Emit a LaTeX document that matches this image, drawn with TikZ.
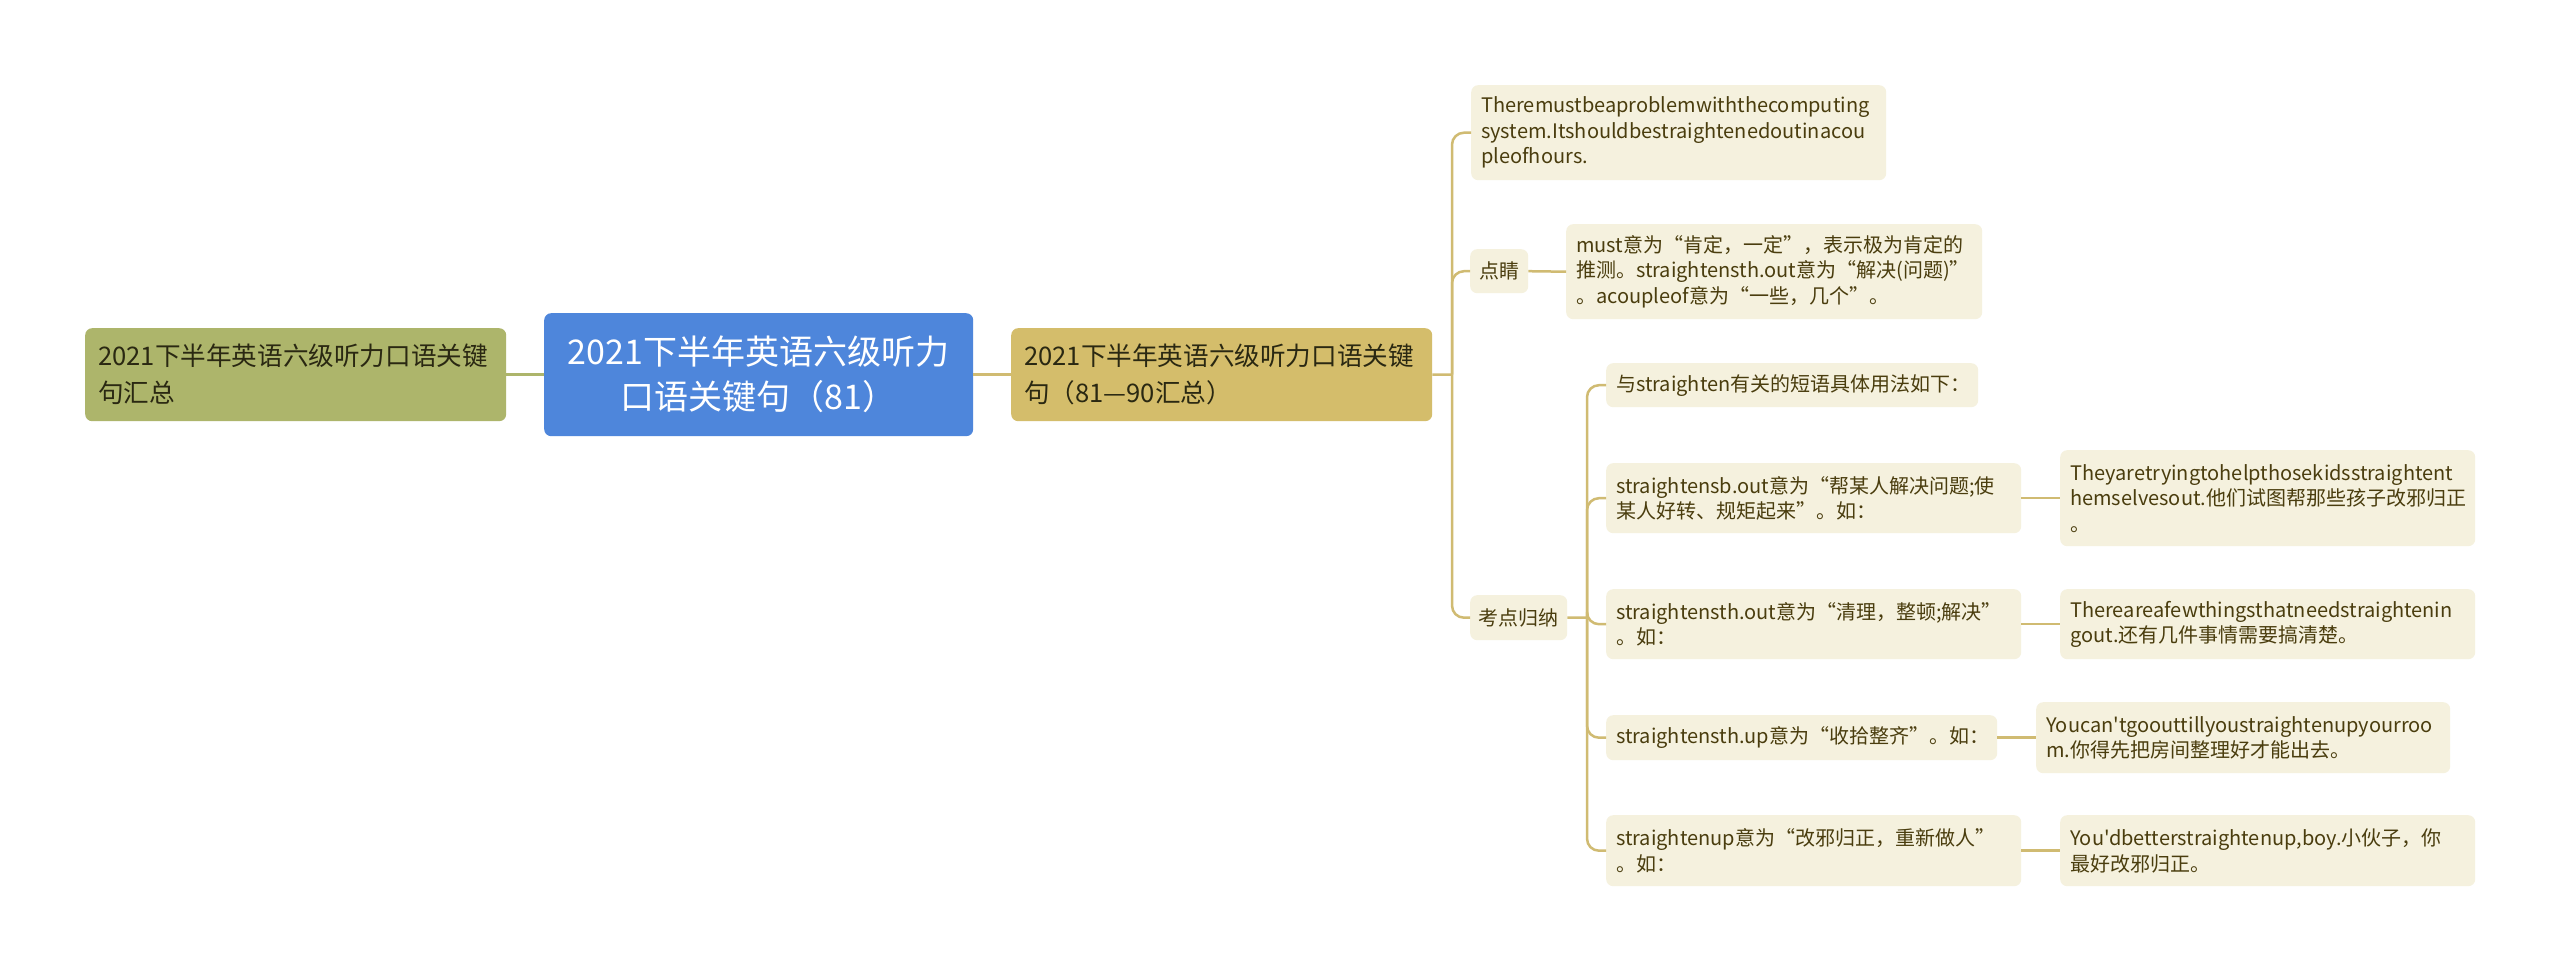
\documentclass[tikz,border=0pt]{standalone}
\usepackage{fontspec}
\setmainfont{Noto Sans CJK SC}[Ligatures=TeXOff]
\hyphenpenalty=10000
\exhyphenpenalty=10000
\definecolor{rootblue}{HTML}{4E86DB}
\definecolor{olivebox}{HTML}{ADB56B}
\definecolor{goldbox}{HTML}{D4BD6B}
\definecolor{goldline}{HTML}{D0BB72}
\definecolor{lightfill}{HTML}{F5F1DE}
\definecolor{lighttext}{HTML}{4A3D0E}
\definecolor{darktext}{HTML}{2A2812}
\begin{document}
\begin{tikzpicture}[x=1pt,y=-1pt,
  basebox/.style={draw=none, rounded corners=7pt, anchor=north west, inner ysep=0pt},
  lightbox/.style={basebox, fill=lightfill, text=lighttext, align=left,
    inner xsep=10pt, font=\fontsize{20}{25.5}\selectfont},
  bigbox/.style={basebox, align=left, inner xsep=13pt, text=darktext,
    font=\fontsize{25.6}{37}\selectfont},
  gline/.style={draw=goldline, line width=2.5pt},
  oline/.style={draw=olivebox, line width=2.5pt},
]
\useasboundingbox[fill=white] (0,0) rectangle (2560,971);

% main nodes
\node[bigbox, fill=olivebox, text width=395pt, minimum height=93pt] (left) at (85,328)
  {2021下半年英语六级听力口语关键\\句汇总};
\node[basebox, fill=rootblue, text=white, align=center, text width=403pt, inner xsep=13pt,
  minimum height=123pt, font=\fontsize{34}{45}\selectfont] (root) at (544,313)
  {2021下半年英语六级听力\\口语关键句（81）};
\node[bigbox, fill=goldbox, text width=395pt, minimum height=93pt] (gold) at (1011,328)
  {2021下半年英语六级听力口语关键\\句（81—90汇总）};

% first level children
\node[lightbox, text width=395pt, minimum height=95pt] (A) at (1471,85)
  {Theremustbeaproblemwiththecomputing\\system.Itshouldbestraightenedoutinacou\\pleofhours.};
\node[lightbox, align=center, inner xsep=8pt, text width=42pt, minimum height=44pt] (dj) at (1470,249)
  {点睛};
\node[lightbox, text width=396pt, minimum height=95pt] (must) at (1566,224)
  {must意为“肯定，一定”，表示极为肯定的\\推测。straightensth.out意为“解决(问题)”\\。acoupleof意为“一些，几个”。};
\node[lightbox, align=center, inner xsep=8pt, text width=81pt, minimum height=45pt] (kd) at (1470,595)
  {考点归纳};

% second level
\node[lightbox, text width=352pt, minimum height=44pt] (yu) at (1606,363)
  {与straighten有关的短语具体用法如下：};
\node[lightbox, text width=395pt, minimum height=70pt] (sb) at (1606,463)
  {straightensb.out意为“帮某人解决问题;使\\某人好转、规矩起来”。如：};
\node[lightbox, text width=395pt, minimum height=96pt] (they) at (2060,450)
  {Theyaretryingtohelpthosekidsstraightent\\hemselvesout.他们试图帮那些孩子改邪归正\\。};
\node[lightbox, text width=395pt, minimum height=70pt] (sthout) at (1606,589)
  {straightensth.out意为“清理，整顿;解决”\\。如：};
\node[lightbox, text width=395pt, minimum height=70pt] (few) at (2060,589)
  {Thereareafewthingsthatneedstraightenin\\gout.还有几件事情需要搞清楚。};
\node[lightbox, text width=371pt, minimum height=45pt] (sthup) at (1606,715)
  {straightensth.up意为“收拾整齐”。如：};
\node[lightbox, text width=394pt, minimum height=71pt] (cant) at (2036,702)
  {Youcan'tgoouttillyoustraightenupyourroo\\m.你得先把房间整理好才能出去。};
\node[lightbox, text width=395pt, minimum height=71pt] (up) at (1606,815)
  {straightenup意为“改邪归正，重新做人”\\。如：};
\node[lightbox, text width=395pt, minimum height=71pt] (youd) at (2060,815)
  {You'dbetterstraightenup,boy.小伙子，你\\最好改邪归正。};

% connectors
\draw[oline] (left.east) -- (root.west);
\draw[gline] (root.east) -- (gold.west);
\coordinate (j1) at (1452,374.5);
\draw[gline] (gold.east) -- (j1);
\draw[gline, rounded corners=12pt] (j1) |- (A.west);
\draw[gline, rounded corners=12pt] (j1) |- (dj.west);
\draw[gline, rounded corners=12pt] (j1) |- (kd.west);
\draw[gline] (dj.east) -- (must.west);
\coordinate (j2) at (1587,617.5);
\draw[gline] (kd.east) -- (j2);
\draw[gline, rounded corners=12pt] (j2) |- (yu.west);
\draw[gline, rounded corners=12pt] (j2) |- (sb.west);
\draw[gline, rounded corners=12pt] (j2) |- (sthout.west);
\draw[gline, rounded corners=12pt] (j2) |- (sthup.west);
\draw[gline, rounded corners=12pt] (j2) |- (up.west);
\draw[gline] (sb.east) -- (they.west);
\draw[gline] (sthout.east) -- (few.west);
\draw[gline] (sthup.east) -- (cant.west);
\draw[gline] (up.east) -- (youd.west);
\end{tikzpicture}
\end{document}
